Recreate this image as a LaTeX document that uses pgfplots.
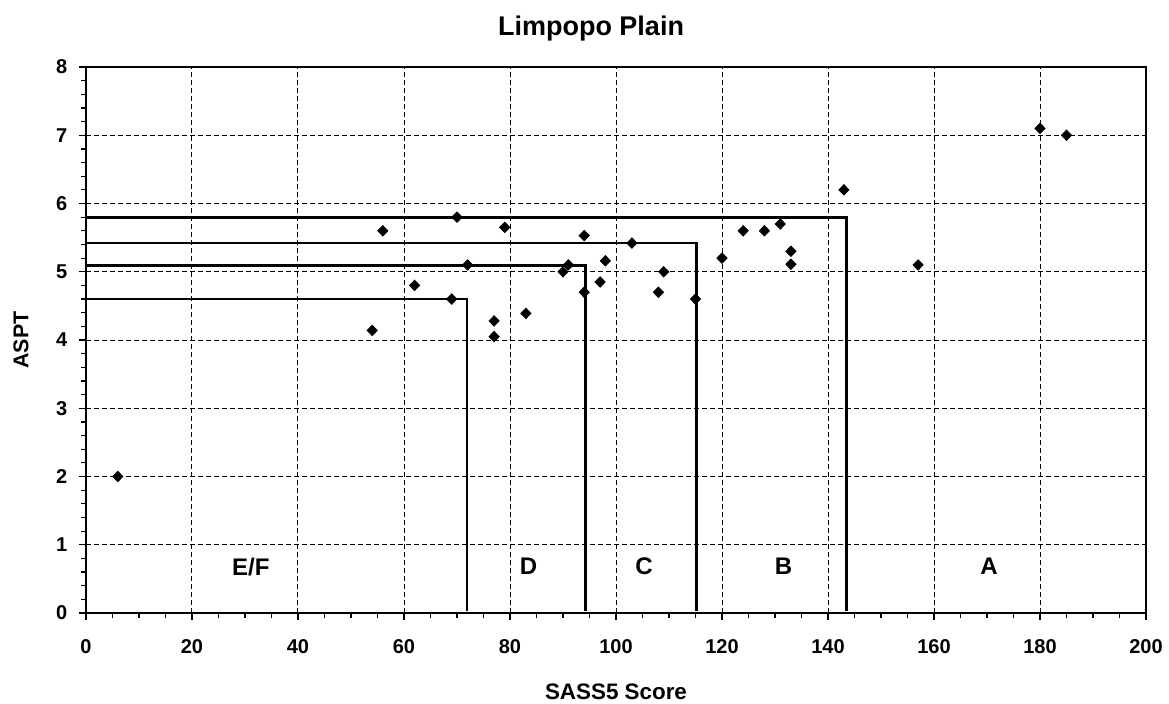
\documentclass[border=0pt]{standalone}
\usepackage{fontspec}
\setmainfont{Liberation Sans}
\usepackage{pgfplots}
\pgfplotsset{compat=1.18}
\begin{document}
\begin{tikzpicture}
\useasboundingbox (-43pt,-45pt) rectangle (541.5pt,306.5pt);
\begin{axis}[
  at={(0,0)}, anchor=south west,
  scale only axis, width=530pt, height=273pt,
  xmin=0, xmax=200, ymin=0, ymax=8,
  xtick={0,20,...,200}, ytick={0,1,...,8},
  minor x tick num=3, minor y tick num=4,
  tick pos=left, tick align=outside,
  major tick length=3.5pt, minor tick length=2.5pt,
  tick style={black, line width=0.6pt},
  grid=major,
  major grid style={black, dash pattern=on 2.5pt off 1.5pt, line width=0.5pt},
  axis line style={black, line width=0.7pt},
  /pgf/number format/assume math mode=true,
  tick label style={font=\fontsize{10}{12}\selectfont\bfseries},
  xticklabel style={yshift=-6pt},
  yticklabel style={xshift=-2.3pt},
  title={Limpopo Plain},
  title style={font=\fontsize{13.5}{16}\selectfont\bfseries, at={(axis description cs:0.5,1)}, anchor=base, yshift=10pt, xshift=-12.5pt},
  xlabel={SASS5 Score},
  xlabel style={font=\fontsize{11.2}{13}\selectfont\bfseries, at={(axis description cs:0.5,0)}, anchor=base, yshift=-43.3pt},
  ylabel={ASPT},
  ylabel style={font=\fontsize{10.7}{12}\selectfont\bfseries, at={(axis description cs:0,0.5)}, anchor=center, yshift=32.5pt},
]
\addplot[only marks, mark=diamond*, mark size=2.6pt, mark options={xscale=1.3, fill=black, draw=black}] coordinates {
(6,2.0) (54,4.14) (56,5.6) (62,4.8) (69,4.6) (70,5.8) (72,5.1) (77,4.28) (77,4.05)
(79,5.65) (83,4.39) (90,5.0) (91,5.1) (94,5.53) (94,4.7) (97,4.85) (98,5.16)
(103,5.42) (108,4.7) (109,5.0) (115,4.6) (120,5.2) (124,5.6) (128,5.6) (131,5.7)
(133,5.3) (133,5.11) (143,6.2) (157,5.1) (180,7.1) (185,7.0)
};
\addplot[black, line width=1.4pt, mark=none] coordinates {(0,5.8) (143.5,5.8) (143.5,0.03)};
\addplot[black, line width=1.4pt, mark=none] coordinates {(0,5.42) (115.2,5.42) (115.2,0.03)};
\addplot[black, line width=1.4pt, mark=none] coordinates {(0,5.09) (94.3,5.09) (94.3,0.03)};
\addplot[black, line width=1.4pt, mark=none] coordinates {(0,4.6) (71.9,4.6) (71.9,0.03)};
\node[font=\fontsize{12}{14}\selectfont\bfseries] at (axis cs:31.1,0.68) {E/F};
\node[font=\fontsize{12}{14}\selectfont\bfseries] at (axis cs:83.5,0.68) {D};
\node[font=\fontsize{12}{14}\selectfont\bfseries] at (axis cs:105.3,0.68) {C};
\node[font=\fontsize{12}{14}\selectfont\bfseries] at (axis cs:131.6,0.68) {B};
\node[font=\fontsize{12}{14}\selectfont\bfseries] at (axis cs:170.4,0.68) {A};
\end{axis}
\end{tikzpicture}
\end{document}
